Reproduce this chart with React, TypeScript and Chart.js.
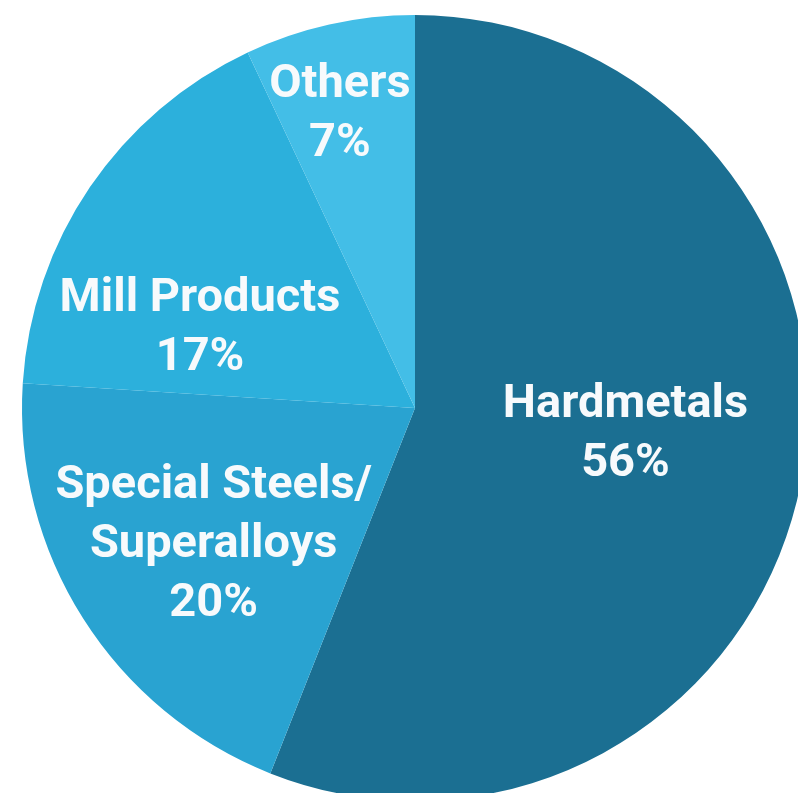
import React, { useEffect, useRef } from "react";
import { Chart, registerables } from "chart.js";

Chart.register(...registerables);

const categories = [["Hardmetals"], ["Special Steels/", "Superalloys"], ["Mill Products"], ["Others"]];
const shares = [56, 20, 17, 7];
const sliceColors = ["#1b6f92", "#29a3d1", "#2cb0dc", "#43bee7"];
// label placement: fraction of radius and angle shift (radians) from the slice's mid angle
const labelRadius = [0.54, 0.62, 0.583, 0.77];
const labelAngleShift = [-0.061, -0.033, -0.244, -0.031];

const labelPlugin = {
  id: "sliceLabels",
  afterDatasetsDraw(chart: any) {
    const ctx = chart.ctx;
    const meta = chart.getDatasetMeta(0);
    ctx.save();
    ctx.fillStyle = "#f7fafc";
    ctx.textAlign = "center";
    ctx.textBaseline = "middle";
    ctx.font = "bold 47px Roboto";
    const lineH = 59;
    meta.data.forEach((arc: any, i: number) => {
      const p = arc.getProps(["x", "y", "startAngle", "endAngle", "outerRadius"], true);
      const mid = (p.startAngle + p.endAngle) / 2 + labelAngleShift[i];
      const r = p.outerRadius * labelRadius[i];
      const cx = p.x + Math.cos(mid) * r;
      const cy = p.y + Math.sin(mid) * r;
      const lines = [...categories[i], shares[i] + "%"];
      const top = cy - ((lines.length - 1) * lineH) / 2;
      lines.forEach((t, k) => ctx.fillText(t, cx, top + k * lineH));
    });
    ctx.restore();
  },
};

export default function App() {
  const ref = useRef<HTMLCanvasElement>(null);
  useEffect(() => {
    if (!ref.current) return;
    const chart = new Chart(ref.current, {
      type: "pie",
      data: {
        labels: categories.map((c) => c.join(" ")),
        datasets: [
          {
            data: shares,
            backgroundColor: sliceColors,
            borderWidth: 0,
          },
        ],
      },
      options: {
        responsive: false,
        animation: false,
        layout: { padding: 15 },
        plugins: { legend: { display: false }, tooltip: { enabled: false } },
      },
      plugins: [labelPlugin],
    });
    return () => chart.destroy();
  }, []);
  return (
    <div style={{ position: "fixed", left: 0, top: 0, width: 798, height: 793, overflow: "hidden", background: "#fff" }}>
      <canvas ref={ref} width={830} height={816} style={{ display: "block" }} />
    </div>
  );
}
